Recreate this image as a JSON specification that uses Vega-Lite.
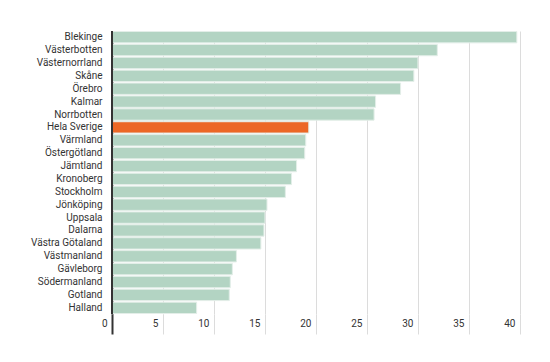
{
  "$schema": "https://vega.github.io/schema/vega-lite/v6.json",
  "width": 413,
  "height": 283,
  "autosize": {"type": "none"},
  "padding": {"left": 112, "top": 31, "right": 25, "bottom": 48},
  "background": "white",
  "config": {
    "view": {"stroke": null},
    "font": "Roboto",
    "axis": {"labelFont": "Roboto", "labelColor": "#333", "labelFontSize": 10}
  },
  "data": {
    "values": [
      {"region": "Blekinge", "value": 39.7},
      {"region": "Västerbotten", "value": 31.9},
      {"region": "Västernorrland", "value": 30.0},
      {"region": "Skåne", "value": 29.6},
      {"region": "Örebro", "value": 28.3},
      {"region": "Kalmar", "value": 25.85},
      {"region": "Norrbotten", "value": 25.7},
      {"region": "Hela Sverige", "value": 19.3},
      {"region": "Värmland", "value": 19.0},
      {"region": "Östergötland", "value": 18.9},
      {"region": "Jämtland", "value": 18.1},
      {"region": "Kronoberg", "value": 17.6},
      {"region": "Stockholm", "value": 17.0},
      {"region": "Jönköping", "value": 15.2},
      {"region": "Uppsala", "value": 15.0},
      {"region": "Dalarna", "value": 14.9},
      {"region": "Västra Götaland", "value": 14.6},
      {"region": "Västmanland", "value": 12.2},
      {"region": "Gävleborg", "value": 11.8},
      {"region": "Södermanland", "value": 11.6},
      {"region": "Gotland", "value": 11.5},
      {"region": "Halland", "value": 8.3}
    ]
  },
  "layer": [
    {
      "mark": {"type": "bar", "stroke": "#e3eee8", "strokeWidth": 1},
      "encoding": {
        "y": {
          "field": "region",
          "type": "nominal",
          "sort": null,
          "title": null,
          "scale": {"paddingInner": 0.12, "paddingOuter": 0.04},
          "axis": {"ticks": false, "domain": false, "labelPadding": 10, "labelFontSize": 10}
        },
        "x": {
          "field": "value",
          "type": "quantitative",
          "title": null,
          "scale": {"domain": [0, 40.5], "nice": false},
          "axis": {
            "values": [0, 5, 10, 15, 20, 25, 30, 35, 40],
            "domain": false,
            "grid": true,
            "gridColor": {"condition": {"test": "datum.value === 0", "value": "#333"}, "value": "#dcdcdc"},
            "gridWidth": {"condition": {"test": "datum.value === 0", "value": 2}, "value": 1},
            "tickColor": {"condition": {"test": "datum.value === 0", "value": "#333"}, "value": "#dcdcdc"},
            "tickWidth": {"condition": {"test": "datum.value === 0", "value": 2}, "value": 1},
            "tickSize": 20,
            "labelAlign": "right",
            "labelOffset": -5,
            "labelPadding": -16,
            "labelFontSize": 10,
            "zindex": 0
          }
        },
        "color": {
          "condition": {"test": "datum.region === 'Hela Sverige'", "value": "#ec6726"},
          "value": "#b3d4c3"
        }
      }
    },
    {
      "mark": {"type": "rule", "color": "#333", "strokeWidth": 2},
      "encoding": {"x": {"datum": 0}}
    }
  ]
}
